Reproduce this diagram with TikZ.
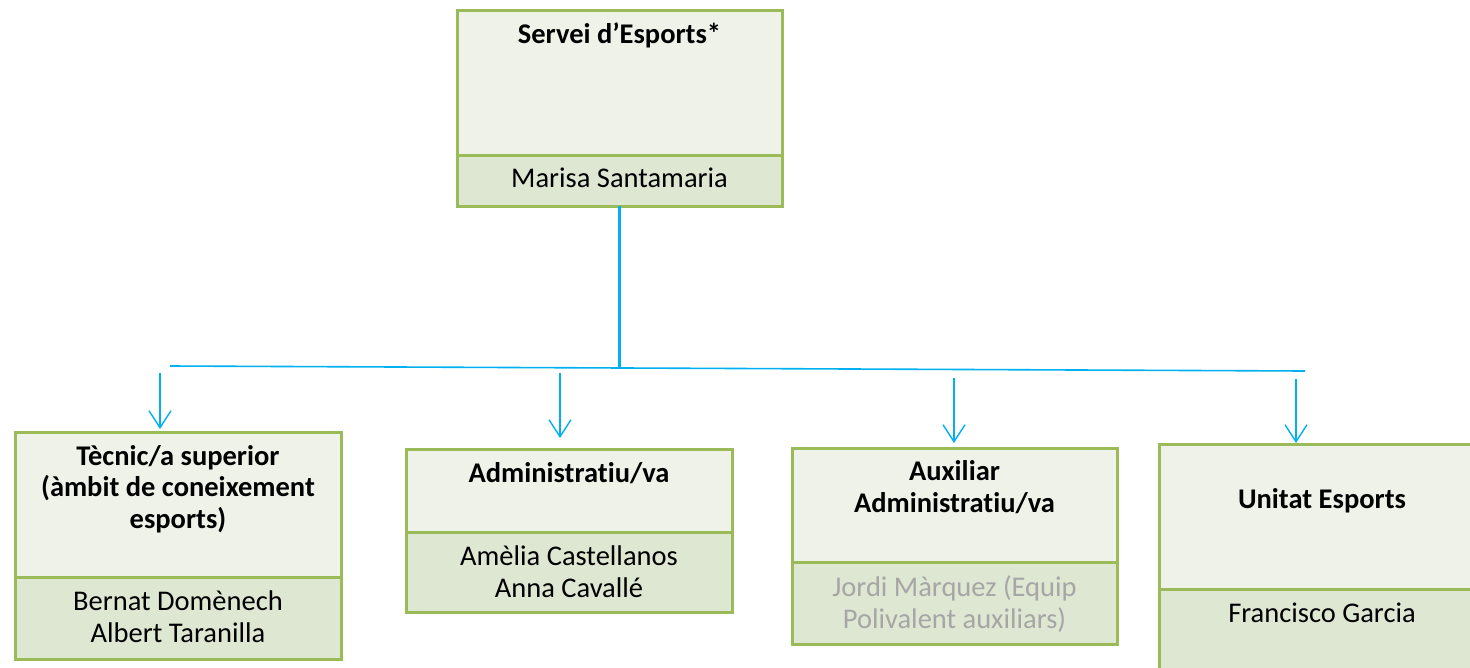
\documentclass[tikz,border=0pt]{standalone}
\usepackage{fontspec}
\setmainfont{Carlito}[Ligatures={NoCommon}]
\usetikzlibrary{arrows.meta}
\definecolor{bord}{RGB}{155,187,89}
\definecolor{fillA}{RGB}{239,242,233}
\definecolor{fillB}{RGB}{222,231,209}
\definecolor{conn}{RGB}{0,176,240}
\definecolor{greytext}{RGB}{166,166,166}
\tikzset{
  part/.style={draw=bord, line width=3pt, inner sep=0pt, outer sep=0pt, anchor=north west, minimum width=326pt},
  toppart/.style={part, fill=fillA},
  botpart/.style={part, fill=fillB},
  ttl/.style={font=\bfseries\fontsize{28.5}{31.5}\selectfont, align=center, anchor=base, inner sep=0pt},
  nam/.style={font=\fontsize{28.5}{31.5}\selectfont, align=center, anchor=base, inner sep=0pt},
  connline/.style={draw=conn, line width=1.6pt},
  arr/.style={draw=conn, line width=1.4pt, -{Straight Barb[length=17pt,width=22pt,line width=1.4pt]}}
}
\begin{document}
\begin{tikzpicture}[x=1pt,y=-1pt]
\useasboundingbox (0,0) rectangle (1470,667);
\clip (0,0) rectangle (1470,667);
% top box
\node[toppart, minimum height=145pt, minimum width=325pt] (tt) at (457,10) {};
\node[botpart, minimum height=51pt, minimum width=325pt] (tb) at (457,155) {};
\node[ttl] (ttxt) at (619.5,43) {Servei d’Esports*};
\node[nam] (tname) at (619.5,187) {Marisa Santamaria};
% box 1
\node[toppart, minimum height=145pt] (b1t) at (15,432) {};
\node[botpart, minimum height=82pt] (b1b) at (15,577) {};
\node[ttl] (b1txt) at (178,528) {Tècnic/a superior\\(àmbit de coneixement\\esports)};
\node[nam] (b1name) at (178,642) {Bernat Domènech\\Albert Taranilla};
% box 2
\node[toppart, minimum height=83pt] (b2t) at (406,449) {};
\node[botpart, minimum height=80pt] (b2b) at (406,532) {};
\node[ttl] (b2txt) at (569,482) {Administratiu/va};
\node[nam] (b2name) at (569,597) {Amèlia Castellanos\\Anna Cavallé};
% box 3
\node[toppart, minimum height=114pt, minimum width=325pt] (b3t) at (792,448) {};
\node[botpart, minimum height=82pt, minimum width=325pt] (b3b) at (792,562) {};
\node[ttl] (b3txt) at (954.5,512) {Auxiliar\\Administratiu/va};
\node[nam, text=greytext] (b3name) at (954.5,628) {Jordi Màrquez (Equip\\Polivalent auxiliars)};
% box 4
\node[toppart, minimum height=145pt] (b4t) at (1159,444) {};
\node[botpart, minimum height=120pt] (b4b) at (1159,589) {};
\node[ttl] (b4txt) at (1322,508) {Unitat Esports};
\node[nam] (b4name) at (1322,622) {Francisco Garcia};
% connectors
\coordinate (busL) at (170,366);
\coordinate (busR) at (1305,371);
\coordinate (busM) at (619.5,368);
\draw[connline] (busL) -- (busR);
\draw[draw=conn, line width=2.6pt] (tb.south) -- (busM);
\coordinate (s1) at (160,373);
\coordinate (s2) at (560,373);
\coordinate (s3) at (954,378);
\coordinate (s4) at (1296,379);
\draw[arr, shorten >=3pt] (s1) -- (s1 |- b1t.north);
\draw[arr, shorten >=11pt] (s2) -- (s2 |- b2t.north);
\draw[arr, shorten >=5pt] (s3) -- (s3 |- b3t.north);
\draw[arr, shorten >=1pt] (s4) -- (s4 |- b4t.north);
\end{tikzpicture}
\end{document}
